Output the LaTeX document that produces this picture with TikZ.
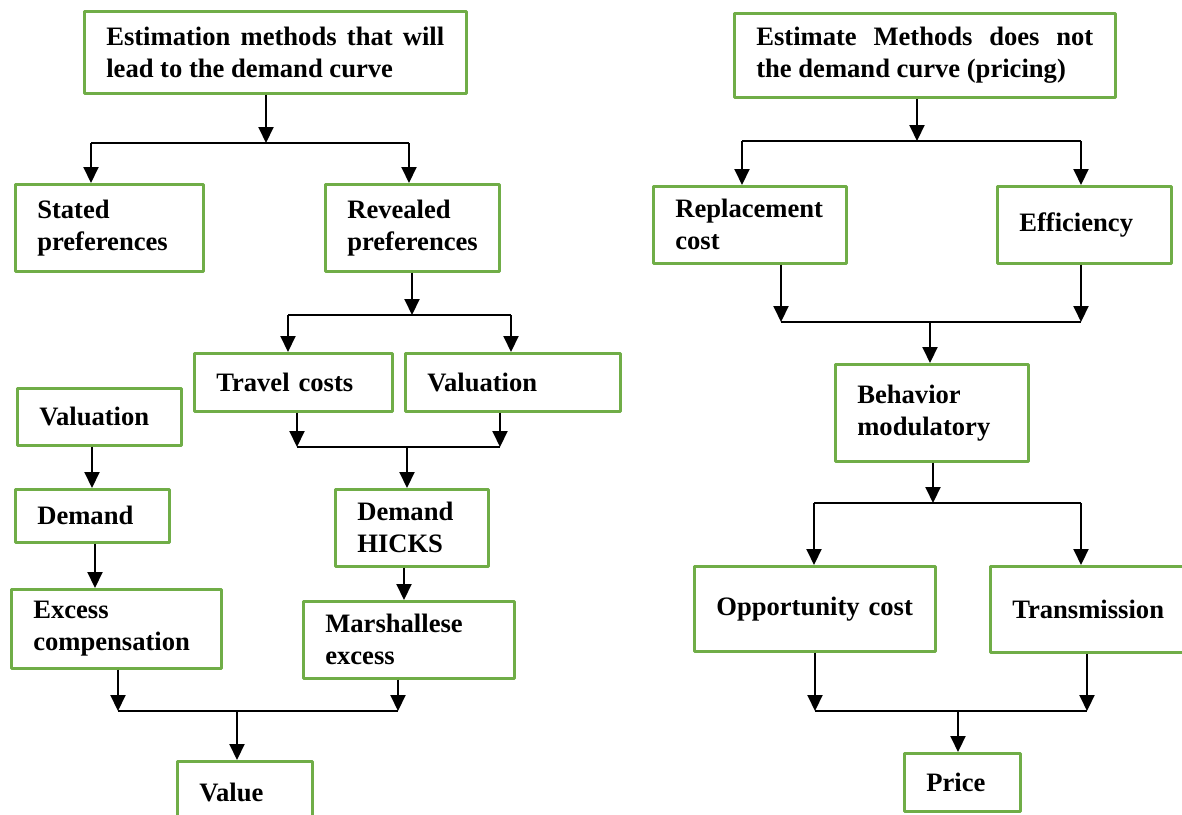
\documentclass[tikz,border=0pt]{standalone}
\usepackage{fontspec}
\setmainfont{Liberation Serif}
\usetikzlibrary{arrows.meta}
\definecolor{boxgreen}{RGB}{112,173,71}
\tolerance=9999

\begin{document}
\begin{tikzpicture}[x=0.5pt, y=-0.5pt, >={Triangle[width=7.5pt,length=8pt]},
	font=\bfseries\fontsize{13.3}{16}\selectfont, line join=round,
	box/.style={draw=boxgreen, line width=1.3pt, rectangle, anchor=north west, align=left, inner xsep=11pt, inner ysep=0pt},
	link/.style={line width=1pt, black}]
	\clip (0,0) rectangle (1182,814);
	
	\node[box, text width=169pt, minimum height=41pt, align=justify] (est) at (83,10) {Estimation methods that will\linebreak lead to the demand curve};
	\node[box, text width=72pt, minimum height=43.5pt] (stated) at (14,183) {Stated\\preferences};
	\node[box, text width=65pt, minimum height=43.5pt] (revealed) at (324,183) {Revealed\\preferences};
	\node[box, text width=77pt, minimum height=29pt] (travel) at (193,352) {Travel costs};
	\node[box, text width=85.5pt, minimum height=29pt] (valR) at (404,352) {Valuation};
	\node[box, text width=60pt, minimum height=28.5pt] (valL) at (16,387) {Valuation};
	\node[box, text width=55pt, minimum height=26.5pt] (demand) at (14,488) {Demand};
	\node[box, text width=83pt, minimum height=39.5pt] (excess) at (10,588) {Excess\\compensation};
	\node[box, text width=54.5pt, minimum height=38.5pt] (hicks) at (334,488) {Demand\\HICKS};
	\node[box, text width=83.5pt, minimum height=38.5pt] (marsh) at (302,600) {Marshallese\\excess};
	\node[box, text width=45.5pt, minimum height=31pt] (value) at (176,760) {Value};
	
	\node[box, text width=168.5pt, minimum height=42pt, align=justify] (est2) at (733,12) {Estimate Methods does not\linebreak the demand curve (pricing)};
	\node[box, text width=74.5pt, minimum height=38.5pt] (repl) at (652,185) {Replacement\\cost};
	\node[box, text width=65pt, minimum height=38.5pt] (eff) at (996,185) {Efficiency};
	\node[box, text width=74.5pt, minimum height=48.5pt] (behav) at (834,363) {Behavior\\modulatory};
	\node[box, text width=98.5pt, minimum height=42.5pt] (opp) at (693,565) {Opportunity cost};
	\node[box, text width=78.5pt, minimum height=43pt] (trans) at (989,565) {Transmission};
	\node[box, text width=36pt, minimum height=29pt] (price) at (903,752) {Price};
	
	\coordinate (j1) at (266,143);
	\coordinate (j1l) at (91,143);
	\coordinate (j1r) at (409,143);
	\coordinate (j2) at (412,315);
	\coordinate (j2l) at (288,315);
	\coordinate (j2r) at (511,315);
	\coordinate (j3) at (407,447);
	\coordinate (j3l) at (297,447);
	\coordinate (j3r) at (500,447);
	\coordinate (j4a) at (92,0);
	\coordinate (j4b) at (95,0);
	\coordinate (j4c) at (404,0);
	\coordinate (j5) at (237,711);
	\coordinate (j5l) at (118,711);
	\coordinate (j5r) at (398,711);
	
	\coordinate (j6) at (917,141);
	\coordinate (j6l) at (742,141);
	\coordinate (j6r) at (1081,141);
	\coordinate (j7) at (930,322);
	\coordinate (j7l) at (781,322);
	\coordinate (j7r) at (1081,322);
	\coordinate (j8) at (933,503);
	\coordinate (j8l) at (814,503);
	\coordinate (j8r) at (1081,503);
	\coordinate (j9) at (958,711);
	\coordinate (j9l) at (815,711);
	\coordinate (j9r) at (1087,711);
	
	\draw[link,->] (est.south -| j1) -- (j1);
	\draw[link] (j1l) -- (j1r);
	\draw[link,->] (j1l) -- (j1l |- stated.north);
	\draw[link,->] (j1r) -- (j1r |- revealed.north);
	\draw[link,->] (revealed.south -| j2) -- (j2);
	\draw[link] (j2l) -- (j2r);
	\draw[link,->] (j2l) -- (j2l |- travel.north);
	\draw[link,->] (j2r) -- (j2r |- valR.north);
	\draw[link,->] (travel.south -| j3l) -- (j3l);
	\draw[link,->] (valR.south -| j3r) -- (j3r);
	\draw[link] (j3l) -- (j3r);
	\draw[link,->] (j3) -- (j3 |- hicks.north);
	\draw[link,->] (valL.south -| j4a) -- (j4a |- demand.north);
	\draw[link,->] (demand.south -| j4b) -- (j4b |- excess.north);
	\draw[link,->] (hicks.south -| j4c) -- (j4c |- marsh.north);
	\draw[link,->] (excess.south -| j5l) -- (j5l);
	\draw[link,->] (marsh.south -| j5r) -- (j5r);
	\draw[link] (j5l) -- (j5r);
	\draw[link,->] (j5) -- (j5 |- value.north);
	
	\draw[link,->] (est2.south -| j6) -- (j6);
	\draw[link] (j6l) -- (j6r);
	\draw[link,->] (j6l) -- (j6l |- repl.north);
	\draw[link,->] (j6r) -- (j6r |- eff.north);
	\draw[link,->] (repl.south -| j7l) -- (j7l);
	\draw[link,->] (eff.south -| j7r) -- (j7r);
	\draw[link] (j7l) -- (j7r);
	\draw[link,->] (j7) -- (j7 |- behav.north);
	\draw[link,->] (behav.south -| j8) -- (j8);
	\draw[link] (j8l) -- (j8r);
	\draw[link,->] (j8l) -- (j8l |- opp.north);
	\draw[link,->] (j8r) -- (j8r |- trans.north);
	\draw[link,->] (opp.south -| j9l) -- (j9l);
	\draw[link,->] (trans.south -| j9r) -- (j9r);
	\draw[link] (j9l) -- (j9r);
	\draw[link,->] (j9) -- (j9 |- price.north);
\end{tikzpicture}
\end{document}
